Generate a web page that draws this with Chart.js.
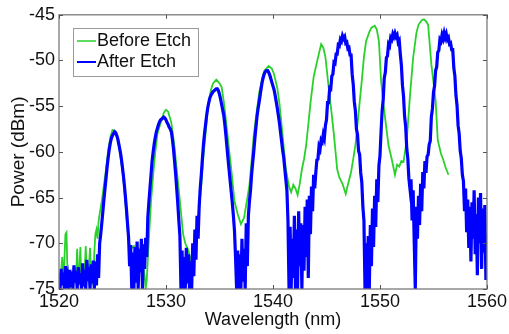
<!DOCTYPE html>
<html><head><meta charset="utf-8">
<script src="https://cdn.jsdelivr.net/npm/chart.js@4/dist/chart.umd.min.js"></script>
<style>html,body{margin:0;padding:0;background:#fff;}#c{display:block;}</style>
</head><body>
<canvas id="c" width="509" height="334"></canvas>
<script>
const seriesNames = ["Before Etch", "After Etch"];
const xTicks = [1520, 1530, 1540, 1550, 1560];
const yTicks = [-75, -70, -65, -60, -55, -50, -45];

const beforeWl = [1520.0,1520.1,1520.2,1520.3,1520.4,1520.5,1520.6,1520.7,1520.8,1520.9,1521.0,1521.1,1521.2,1521.3,1521.4,1521.5,1521.6,1521.7,1521.8,1521.9,1522.0,1522.1,1522.2,1522.3,1522.4,1522.5,1522.6,1522.7,1522.8,1522.9,1523.0,1523.1,1523.2,1523.3,1523.4,1523.5,1523.6,1523.7,1523.8,1524.0,1524.2,1524.4,1524.6,1524.8,1525.0,1525.2,1525.4,1525.6,1525.8,1526.0,1526.2,1526.4,1526.5,1526.6,1526.8,1527.0,1527.2,1527.4,1527.6,1527.8,1528.0,1528.1,1528.2,1528.4,1528.6,1528.8,1529.0,1529.2,1529.5,1529.8,1530.0,1530.2,1530.5,1530.8,1531.0,1531.3,1531.6,1531.8,1532.1,1532.3,1532.5,1532.7,1533.0,1533.3,1533.5,1533.7,1533.9,1534.2,1534.4,1534.7,1535.0,1535.2,1535.4,1535.6,1535.9,1536.1,1536.4,1536.7,1537.0,1537.3,1537.5,1537.8,1538.0,1538.2,1538.5,1538.7,1539.0,1539.2,1539.6,1539.9,1540.1,1540.4,1540.6,1540.9,1541.2,1541.5,1541.7,1541.9,1542.1,1542.3,1542.5,1542.7,1542.9,1543.1,1543.3,1543.5,1543.8,1544.1,1544.3,1544.5,1544.7,1544.9,1545.2,1545.5,1545.7,1546.0,1546.2,1546.5,1546.8,1547.0,1547.3,1547.5,1547.7,1548.0,1548.3,1548.5,1548.7,1549.0,1549.2,1549.5,1549.7,1549.9,1550.1,1550.3,1550.5,1550.8,1551.1,1551.4,1551.6,1551.8,1552.0,1552.2,1552.5,1552.8,1553.1,1553.4,1553.6,1553.9,1554.1,1554.3,1554.5,1554.8,1555.2,1555.4,1555.7,1555.9,1556.1,1556.4];
const beforePower = [-73.2,-74.5,-73.0,-71.5,-73.8,-72.0,-69.0,-68.8,-73.5,-74.2,-73.0,-74.5,-73.6,-74.8,-73.2,-74.0,-73.5,-70.6,-74.2,-73.0,-70.4,-74.5,-73.4,-74.8,-73.0,-70.3,-73.6,-74.0,-72.5,-70.5,-74.2,-73.0,-74.6,-71.0,-69.0,-68.5,-69.5,-67.6,-66.8,-65.4,-63.6,-61.9,-59.8,-58.4,-57.6,-57.7,-58.3,-59.4,-61.0,-62.8,-65.4,-68.3,-69.7,-70.2,-70.5,-70.3,-70.9,-70.6,-71.2,-72.0,-73.5,-75.0,-74.0,-69.5,-65.4,-62.5,-60.0,-58.0,-56.8,-55.7,-55.4,-55.6,-56.8,-59.5,-61.9,-65.4,-69.0,-70.0,-70.8,-71.9,-71.0,-69.7,-67.2,-63.6,-60.5,-58.0,-55.2,-53.2,-52.5,-52.1,-52.5,-52.9,-54.5,-56.5,-59.8,-61.9,-65.4,-66.8,-67.9,-67.2,-65.8,-63.6,-61.0,-58.2,-55.4,-53.6,-51.9,-51.1,-50.6,-50.9,-51.5,-53.0,-54.7,-58.2,-61.9,-63.8,-64.4,-63.6,-64.0,-64.7,-63.5,-61.9,-60.8,-59.3,-57.0,-54.7,-51.8,-50.2,-49.2,-48.2,-48.6,-49.6,-52.9,-56.0,-58.2,-61.9,-62.8,-63.5,-64.6,-63.6,-62.2,-60.8,-59.3,-55.8,-52.2,-49.6,-47.9,-46.9,-46.4,-46.2,-46.6,-47.9,-52.2,-54.5,-56.5,-59.3,-60.8,-62.5,-61.4,-61.6,-61.0,-61.1,-58.7,-53.9,-49.7,-47.0,-46.1,-45.6,-45.5,-45.7,-46.1,-50.4,-54.4,-58.7,-60.2,-60.8,-61.6,-62.5];

const afterWl = [1520.0,1520.1,1520.2,1520.3,1520.4,1520.5,1520.6,1520.7,1520.8,1520.9,1521.0,1521.1,1521.2,1521.3,1521.4,1521.5,1521.6,1521.7,1521.8,1521.9,1522.0,1522.1,1522.2,1522.3,1522.4,1522.5,1522.6,1522.7,1522.8,1522.9,1523.0,1523.1,1523.2,1523.3,1523.4,1523.5,1523.6,1523.7,1523.8,1523.9,1524.0,1524.1,1524.2,1524.3,1524.4,1524.5,1524.6,1524.7,1524.8,1524.9,1525.0,1525.1,1525.2,1525.3,1525.4,1525.5,1525.6,1525.7,1525.8,1525.9,1526.0,1526.1,1526.2,1526.3,1526.4,1526.5,1526.6,1526.7,1526.8,1526.9,1527.0,1527.1,1527.2,1527.3,1527.4,1527.5,1527.6,1527.7,1527.8,1527.9,1528.0,1528.1,1528.2,1528.3,1528.4,1528.5,1528.6,1528.7,1528.8,1528.9,1529.0,1529.1,1529.2,1529.3,1529.4,1529.5,1529.6,1529.7,1529.8,1529.9,1530.0,1530.1,1530.2,1530.3,1530.4,1530.5,1530.6,1530.7,1530.8,1530.9,1531.0,1531.1,1531.2,1531.3,1531.4,1531.5,1531.6,1531.7,1531.8,1531.9,1532.0,1532.1,1532.2,1532.3,1532.4,1532.5,1532.6,1532.7,1532.8,1532.9,1533.0,1533.1,1533.2,1533.3,1533.4,1533.5,1533.6,1533.7,1533.8,1533.9,1534.0,1534.1,1534.2,1534.3,1534.4,1534.5,1534.6,1534.7,1534.8,1534.9,1535.0,1535.1,1535.2,1535.3,1535.4,1535.5,1535.6,1535.7,1535.8,1535.9,1536.0,1536.1,1536.2,1536.3,1536.4,1536.5,1536.6,1536.7,1536.8,1536.9,1537.0,1537.1,1537.2,1537.3,1537.4,1537.5,1537.6,1537.7,1537.8,1537.9,1538.0,1538.1,1538.2,1538.3,1538.4,1538.5,1538.6,1538.7,1538.8,1538.9,1539.0,1539.1,1539.2,1539.3,1539.4,1539.5,1539.6,1539.7,1539.8,1539.9,1540.0,1540.1,1540.2,1540.3,1540.4,1540.5,1540.6,1540.7,1540.8,1540.9,1541.0,1541.1,1541.2,1541.3,1541.4,1541.5,1541.6,1541.7,1541.8,1541.9,1542.0,1542.1,1542.2,1542.3,1542.4,1542.5,1542.6,1542.7,1542.8,1542.9,1543.0,1543.1,1543.2,1543.3,1543.4,1543.5,1543.6,1543.7,1543.8,1543.9,1544.0,1544.1,1544.2,1544.3,1544.4,1544.5,1544.6,1544.7,1544.8,1544.9,1545.0,1545.1,1545.2,1545.3,1545.4,1545.5,1545.6,1545.7,1545.8,1545.9,1546.0,1546.1,1546.2,1546.3,1546.4,1546.5,1546.6,1546.7,1546.8,1546.9,1547.0,1547.1,1547.2,1547.3,1547.4,1547.5,1547.6,1547.7,1547.8,1547.9,1548.0,1548.1,1548.2,1548.3,1548.4,1548.5,1548.6,1548.7,1548.8,1548.9,1549.0,1549.1,1549.2,1549.3,1549.4,1549.5,1549.6,1549.7,1549.8,1549.9,1550.0,1550.1,1550.2,1550.3,1550.4,1550.5,1550.6,1550.7,1550.8,1550.9,1551.0,1551.1,1551.2,1551.3,1551.4,1551.5,1551.6,1551.7,1551.8,1551.9,1552.0,1552.1,1552.2,1552.3,1552.4,1552.5,1552.6,1552.7,1552.8,1552.9,1553.0,1553.1,1553.2,1553.3,1553.4,1553.5,1553.6,1553.7,1553.8,1553.9,1554.0,1554.1,1554.2,1554.3,1554.4,1554.5,1554.6,1554.7,1554.8,1554.9,1555.0,1555.1,1555.2,1555.3,1555.4,1555.5,1555.6,1555.7,1555.8,1555.9,1556.0,1556.1,1556.2,1556.3,1556.4,1556.5,1556.6,1556.7,1556.8,1556.9,1557.0,1557.1,1557.2,1557.3,1557.4,1557.5,1557.6,1557.7,1557.8,1557.9,1558.0,1558.1,1558.2,1558.3,1558.4,1558.5,1558.6,1558.7,1558.8,1558.9,1559.0,1559.1,1559.2,1559.3,1559.4,1559.5,1559.6,1559.7,1559.8,1559.9,1560.0];
const afterPower = [-73.5,-75,-72.8,-74.6,-73.2,-75,-72.5,-74.2,-73.6,-75,-72.9,-74.8,-73.1,-75,-72.4,-74.3,-73.0,-75,-72.6,-74.5,-73.3,-75,-72.2,-74.7,-72.9,-75,-71.8,-74.1,-72.6,-75,-72.3,-74.4,-71.9,-75,-72.0,-74.6,-71.2,-73.8,-70.0,
-69.0,-67.8,-66.5,-65.2,-64.0,-62.8,-61.6,-60.6,-59.7,-59.0,-58.5,-58.2,-58.0,-57.8,-57.9,-58.2,-58.6,-59.2,-59.8,-60.5,-61.4,-62.4,-63.5,-64.8,-66.2,-67.8,-69.3,
-72.5,-70.2,-75,-71.0,-75,-70.4,-74.3,-69.8,-75,-70.6,-73.2,-69.5,-75,-70.1,-72.8,-69.4,-71.5,-67.2,
-65.5,-64.0,-62.5,-61.0,-60.0,-59.1,-58.4,-57.8,-57.4,-57.0,-56.7,-56.5,-56.4,-56.3,-56.2,-56.3,-56.5,-56.8,-57.0,-57.3,-57.5,-57.8,-58.6,-59.7,-61.0,-62.4,-64.0,-65.6,-67.5,-69.2,
-75,-70.8,-75,-71.5,-75,-70.5,-74.4,-71.2,-75,-72.0,-75,-70.0,-73.6,-68.5,-71.8,-67.0,-69.5,-66.0,
-64.0,-62.5,-60.8,-59.2,-58.0,-57.0,-56.0,-55.2,-54.6,-54.1,-53.8,-53.6,-53.4,-53.3,-53.2,-53.1,-53.1,-53.3,-53.7,-54.2,-54.8,-55.4,-56.0,-57.0,-58.2,-59.5,-60.8,-62.0,-63.2,-64.4,-65.6,-67.0,-68.6,
-71.5,-75,-70.8,-75,-71.2,-75,-69.5,-74.2,-70.6,-75,-67.8,-72.5,-67.0,
-65.4,-64.2,-62.5,-61.2,-60.0,-58.6,-57.4,-56.2,-55.3,-54.6,-53.8,-53.0,-52.3,-51.8,-51.4,-51.2,-51.1,-51.1,-51.3,-51.6,-52.0,-52.4,-52.8,-53.2,-53.8,-54.5,-55.2,-56.0,-56.8,-57.8,-58.8,-59.8,-60.6,-61.8,-63.0,-64.2,
-67.5,-75,-68.2,-75,-69.5,-73.8,-67.0,-75,-68.5,-75,-66.5,-72.5,-67.8,-75,-68.0,-73.0,-66.0,-71.5,-65.2,-73.8,-64.8,-69.0,-63.8,-66.5,-62.5,-64.0,
-62.3,-60.9,-60.8,-59.4,-59.7,-58.7,-58.9,-58.1,-58.5,-57.1,-56.5,-54.6,-54.6,-53.0,-53.1,-51.7,-51.5,-50.2,-50.3,-49.3,-49.3,-48.3,-48.4,-47.7,-47.9,-47.3,-47.6,
-47.4,-48.1,-48.0,-48.7,-48.6,-49.4,-49.4,-51.5,-52.6,-54.5,-55.5,-57.5,-58.1,-59.9,-60.3,-62.3,-63.3,-66.0,
-67.5,-75,-70.0,-75,-69.2,-75,-68.0,-72.5,-66.2,-70.4,-64.8,-68.2,-63.0,-65.5,-61.5,-60.4,
-57.8,-55.5,-54.3,-51.9,-51.3,-49.7,-49.5,-48.2,-48.4,-47.5,-47.7,-47.1,-47.4,-47.0,
-47.4,-47.2,-48.0,-47.8,-49.3,-50.5,-52.7,-53.9,-56.1,-57.2,-59.6,-60.7,-62.9,-64.0,
-63.0,-67.5,-64.2,-69.8,-75,-66.0,-69.5,-64.8,-68.0,-63.5,-66.5,-62.2,-64.0,-61.0,
-62.3,-60.5,-60.3,-59.2,-58.8,-56.2,-55.3,-53.5,-52.8,-51.1,-50.7,-49.1,-48.9,-47.7,-47.9,-47.2,-47.6,-47.0,-47.5,-47.1,-47.7,-47.5,-48.2,-48.1,-48.8,-48.8,-50.8,-51.7,-53.8,-54.9,-57.1,-58.0,-59.9,-60.7,-62.5,-63.2,
-66.5,-64.0,-68.8,-65.2,-70.5,-66.0,-72.0,-65.5,-69.5,-64.2,-71.2,-66.8,-73.5,-65.0,-70.0,-64.5,-72.8,-66.2,-71.0,-65.8,-74.0,-69.0];

const seriesColors = ["#2ad12a", "#0000ff"];
const FONT = "'Liberation Sans', Arial, Helvetica, sans-serif";

const toPoints = (xs, ys) => xs.map((x, i) => ({x: x, y: ys[i]}));

const frame = {
  id: 'frame',
  afterDatasetsDraw(chart) {
    const {ctx, chartArea: a, scales: {x, y}} = chart;
    ctx.save();
    ctx.strokeStyle = '#7a7a7a';
    ctx.lineWidth = 1.3;
    ctx.strokeRect(a.left, a.top, a.right - a.left, a.bottom - a.top);
    ctx.strokeStyle = '#555';
    ctx.lineWidth = 1;
    ctx.beginPath();
    xTicks.forEach(v => {
      const px = Math.round(x.getPixelForValue(v)) + 0.5;
      ctx.moveTo(px, a.bottom); ctx.lineTo(px, a.bottom - 4);
      ctx.moveTo(px, a.top); ctx.lineTo(px, a.top + 4);
    });
    yTicks.forEach(v => {
      const py = Math.round(y.getPixelForValue(v)) + 0.5;
      ctx.moveTo(a.left, py); ctx.lineTo(a.left + 4, py);
      ctx.moveTo(a.right, py); ctx.lineTo(a.right - 4, py);
    });
    ctx.stroke();

    // legend (Before Etch first, as in the figure)
    const lx = 73.5, ly = 28.5, lw = 125, lh = 48;
    ctx.fillStyle = '#fff';
    ctx.fillRect(lx, ly, lw, lh);
    ctx.strokeStyle = '#9a9a9a';
    ctx.lineWidth = 1;
    ctx.strokeRect(lx, ly, lw, lh);
    const rows = [1, 0];
    rows.forEach((di, r) => {
      const ds = chart.data.datasets[di];
      const yy = ly + 12.5 + r * 21;
      ctx.strokeStyle = ds.borderColor;
      ctx.lineWidth = di === 0 ? 2 : 1.5;
      ctx.beginPath(); ctx.moveTo(77, yy); ctx.lineTo(96, yy); ctx.stroke();
      ctx.fillStyle = '#111';
      ctx.font = '18px ' + FONT;
      ctx.textBaseline = 'middle';
      ctx.textAlign = 'left';
      ctx.fillText(ds.label, 97, yy + 0.5);
    });
    ctx.restore();
  }
};

new Chart(document.getElementById('c'), {
  type: 'line',
  data: {
    datasets: [
      {label: seriesNames[1], data: toPoints(afterWl, afterPower), borderColor: seriesColors[1], borderWidth: 3.2, pointRadius: 0, tension: 0, fill: false},
      {label: seriesNames[0], data: toPoints(beforeWl, beforePower), borderColor: seriesColors[0], borderWidth: 1.8, pointRadius: 0, tension: 0, fill: false}
    ]
  },
  options: {
    responsive: false,
    animation: false,
    events: [],
    layout: {padding: {top: 10, right: 20, left: 0, bottom: 0}},
    plugins: {legend: {display: false}, tooltip: {enabled: false}},
    scales: {
      x: {
        type: 'linear', min: 1520, max: 1560,
        afterBuildTicks: s => { s.ticks = xTicks.map(v => ({value: v})); },
        afterFit: s => { s.height = 45; },
        grid: {display: false, drawTicks: false},
        border: {display: false},
        ticks: {font: {family: FONT, size: 18}, color: '#111', padding: 2, maxRotation: 0, autoSkip: false, callback: v => String(v)},
        title: {display: true, text: 'Wavelength (nm)', font: {family: FONT, size: 18}, color: '#111', padding: {top: 0, bottom: 3}}
      },
      y: {
        min: -75, max: -45,
        afterBuildTicks: s => { s.ticks = yTicks.map(v => ({value: v})); },
        afterFit: s => { s.width = 59; },
        grid: {display: false, drawTicks: false},
        border: {display: false},
        ticks: {font: {family: FONT, size: 18}, color: '#111', padding: 4, autoSkip: false, callback: v => String(v)},
        title: {display: true, text: 'Power (dBm)', font: {family: FONT, size: 19}, color: '#111', padding: {top: 7, bottom: 0}}
      }
    }
  },
  plugins: [frame]
});
</script>
</body></html>
